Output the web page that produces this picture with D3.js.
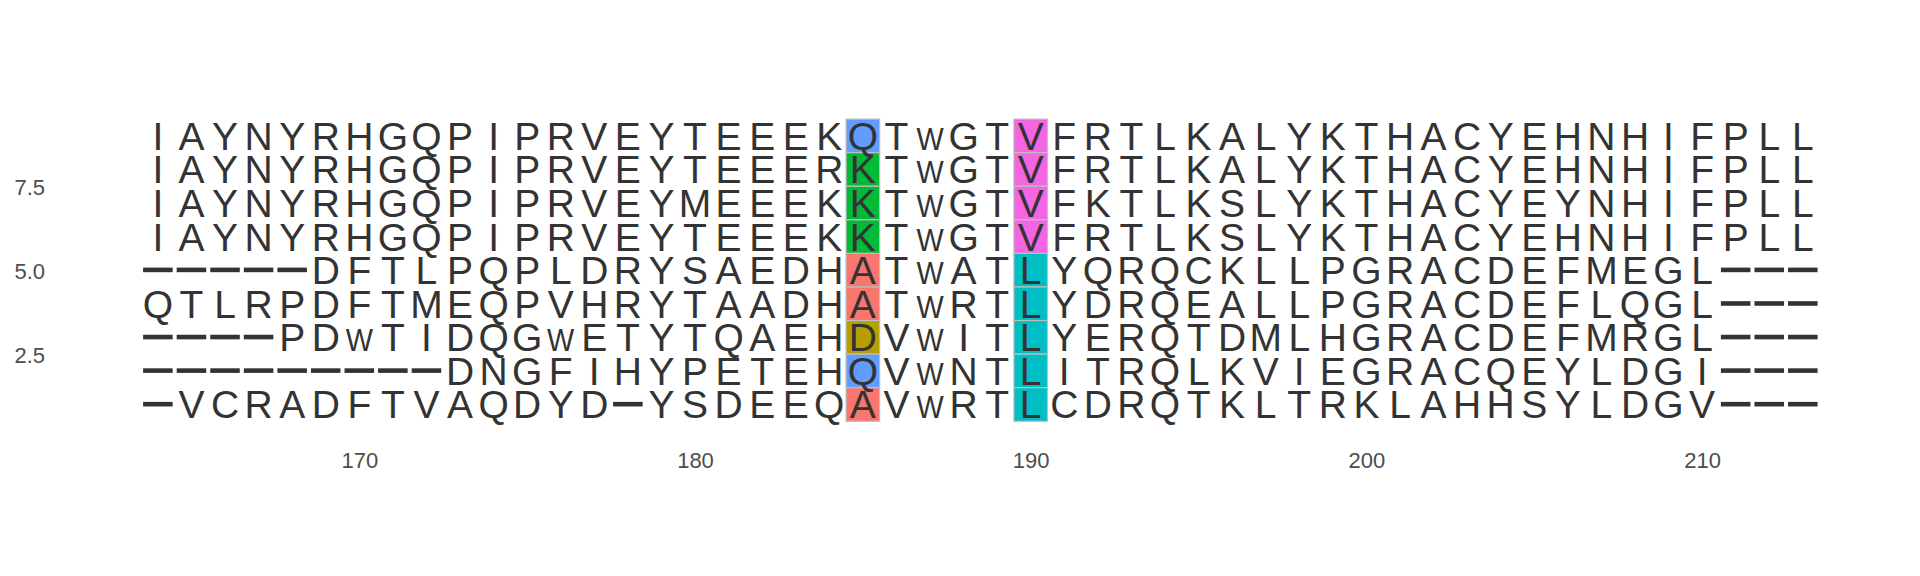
<!DOCTYPE html>
<html>
<head>
<meta charset="utf-8">
<script src="https://cdn.jsdelivr.net/npm/d3@7"></script>
<style>
  html, body { margin: 0; padding: 0; background: #ffffff; }
  svg { display: block; }
</style>
</head>
<body>
<svg id="chart" width="1920" height="576"></svg>
<script>
// ---- data ----
const sequences = [
  "IAYNYRHGQPIPRVEYTEEEKQTWGTVFRTLKALYKTHACYEHNHIFPLL",
  "IAYNYRHGQPIPRVEYTEEERKTWGTVFRTLKALYKTHACYEHNHIFPLL",
  "IAYNYRHGQPIPRVEYMEEEKKTWGTVFKTLKSLYKTHACYEYNHIFPLL",
  "IAYNYRHGQPIPRVEYTEEEKKTWGTVFRTLKSLYKTHACYEHNHIFPLL",
  "-----DFTLPQPLDRYSAEDHATWATLYQRQCKLLPGRACDEFMEGL---",
  "QTLRPDFTMEQPVHRYTAADHATWRTLYDRQEALLPGRACDEFLQGL---",
  "----PDWTIDQGWETYTQAEHDVWITLYERQTDMLHGRACDEFMRGL---",
  "---------DNGFIHYPETEHQVWNTLITRQLKVIEGRACQEYLDGI---",
  "-VCRADFTVAQDYD-YSDEEQAVWRTLCDRQTKLTRKLAHHSYLDGV---"
];
const startPosition = 164;
const highlightPositions = [185, 190];
const residueLetters = ["A", "D", "K", "L", "Q", "V"];
const residueColors = ["#F8766D", "#B79F00", "#00BA38", "#00BFC4", "#619CFF", "#F564E3"];
const xTicks = [170, 180, 190, 200, 210];
const yTicks = [2.5, 5.0, 7.5];
const yTickLabels = ["2.5", "5.0", "7.5"];

// ---- build cells ----
const nRows = sequences.length;
const cells = [];
sequences.forEach((s, i) => {
  const row = nRows - i; // top sequence at y = nRows
  s.split("").forEach((ch, j) => {
    cells.push({ x: startPosition + j, y: row, ch: ch });
  });
});

// ---- scales ----
const unit = 33.57;
const x = d3.scaleLinear().domain([170, 210]).range([359.3, 359.3 + 40 * unit]);
const y = d3.scaleLinear().domain([5, 7.5]).range([270.2, 270.2 - 2.5 * unit]);
const color = d3.scaleOrdinal().domain(residueLetters).range(residueColors);

const svg = d3.select("#chart");
const g = svg.append("g");

// tiles for highlighted columns
const tileW = x(1) - x(0);
const tileH = y(0) - y(1);
g.selectAll("rect.tile")
  .data(cells.filter(d => highlightPositions.includes(d.x)))
  .join("rect")
  .attr("class", "tile")
  .attr("x", d => x(d.x - 0.5))
  .attr("y", d => y(d.y + 0.5))
  .attr("width", tileW)
  .attr("height", tileH)
  .attr("fill", d => color(d.ch))
  .attr("stroke", "#BEBEBE")
  .attr("stroke-width", 1.2);

// gaps
g.selectAll("rect.gap")
  .data(cells.filter(d => d.ch === "-"))
  .join("rect")
  .attr("class", "gap")
  .attr("x", d => x(d.x - 0.44))
  .attr("y", d => y(d.y) - 2.6)
  .attr("width", x(0.88) - x(0))
  .attr("height", 4.6)
  .attr("fill", "#333333");

// letters
const fontSize = 39;
const baseOffset = 14; // baseline below tile centre
g.selectAll("text.res")
  .data(cells.filter(d => d.ch !== "-"))
  .join("text")
  .attr("class", "res")
  .attr("transform", d => {
    const cx = x(d.x), by = y(d.y) + baseOffset;
    if (d.ch === "W") return `translate(${cx},${by}) scale(0.74,0.82)`;
    return `translate(${cx},${by})`;
  })
  .attr("text-anchor", "middle")
  .attr("font-family", "'Liberation Sans', Arial, sans-serif")
  .attr("font-size", fontSize)
  .attr("fill", "#333333")
  .text(d => d.ch);

// x axis labels
const axisColor = "#4D4D4D";
const xAxis = d3.axisBottom(x).tickValues(xTicks).tickSize(0).tickPadding(0).tickFormat(d3.format("d"));
const xg = svg.append("g").attr("transform", `translate(0,452)`).call(xAxis);
xg.select(".domain").remove();
xg.selectAll("text")
  .attr("fill", axisColor)
  .attr("font-family", "'Liberation Sans', Arial, sans-serif")
  .attr("font-size", 22)
  .attr("dy", "0.71em")
  .attr("y", 0);

// y axis labels
const yAxis = d3.axisLeft(y).tickValues(yTicks).tickSize(0).tickPadding(0)
  .tickFormat((d, i) => yTickLabels[i]);
const yg = svg.append("g").attr("transform", `translate(45,0)`).call(yAxis);
yg.select(".domain").remove();
yg.selectAll("text")
  .attr("fill", axisColor)
  .attr("font-family", "'Liberation Sans', Arial, sans-serif")
  .attr("font-size", 22)
  .attr("dy", "0.36em");
</script>
</body>
</html>
